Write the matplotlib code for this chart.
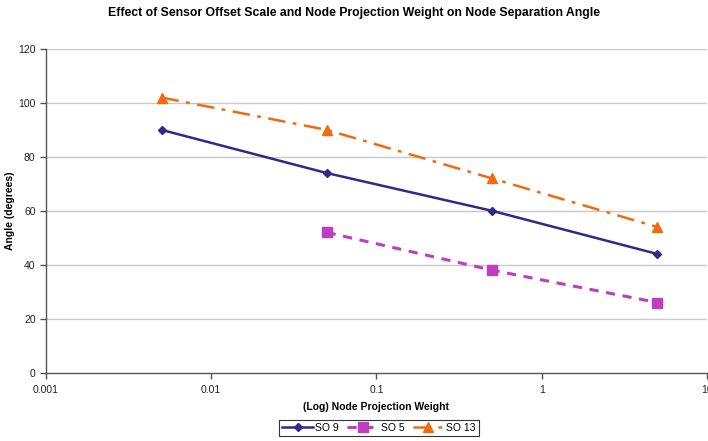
import matplotlib
matplotlib.use("Agg")
import matplotlib.pyplot as plt
from matplotlib.ticker import FixedLocator, FixedFormatter, NullLocator

plt.rcParams["font.family"] = ["Liberation Sans", "DejaVu Sans"]

# node projection weights and separation angles per sensor offset scale
weights_so9 = [0.005, 0.05, 0.5, 5]
angle_so9 = [90, 74, 60, 44]
weights_so5 = [0.05, 0.5, 5]
angle_so5 = [52, 38, 26]
weights_so13 = [0.005, 0.05, 0.5, 5]
angle_so13 = [102, 90, 72, 54]

x_ticks = [0.001, 0.01, 0.1, 1, 10]
x_tick_labels = ["0.001", "0.01", "0.1", "1", "10"]
y_ticks = [0, 20, 40, 60, 80, 100, 120]

fig = plt.figure(figsize=(7.08, 4.41), dpi=100)
ax = fig.add_axes([0.065, 0.155, 0.9335, 0.734])

ax.plot(weights_so9, angle_so9, color="#2E2A8C", lw=1.8, marker="D", ms=4.5,
        label="SO 9", zorder=3)
ax.plot(weights_so5, angle_so5, color="#C03CC0", lw=2.2, ls=(0, (3, 2.5)),
        marker="s", ms=7, label="SO 5", zorder=3)
ax.plot(weights_so13, angle_so13, color="#F26A10", lw=1.8,
        ls=(0, (7, 3, 1.5, 3)), marker="^", ms=6.5, label="SO 13", zorder=3)

ax.set_xscale("log")
ax.set_xlim(0.001, 10)
ax.set_ylim(0, 120)
ax.xaxis.set_major_locator(FixedLocator(x_ticks))
ax.xaxis.set_major_formatter(FixedFormatter(x_tick_labels))
ax.xaxis.set_minor_locator(NullLocator())
ax.set_yticks(y_ticks)

for y in y_ticks[1:]:
    ax.axhline(y, color="#C8C8C8", lw=1.0, zorder=1)

for side in ("top", "right"):
    ax.spines[side].set_visible(False)
for side in ("left", "bottom"):
    ax.spines[side].set_color("#555555")
    ax.spines[side].set_linewidth(1.0)
ax.spines["bottom"].set_zorder(4)

ax.tick_params(axis="both", colors="#555555", labelcolor="#222222",
               labelsize=7.5, length=4, width=1.0)
ax.tick_params(axis="x", pad=5)

ax.set_xlabel("(Log) Node Projection Weight", fontsize=7.5, fontweight="bold",
              labelpad=5)
ax.set_ylabel("Angle (degrees)", fontsize=7.5, fontweight="bold")
ax.yaxis.set_label_coords(-0.047, 0.5)

fig.suptitle("Effect of Sensor Offset Scale and Node Projection Weight on Node Separation Angle",
             fontsize=8.8, fontweight="bold", y=0.985)

leg = fig.legend(loc="center", bbox_to_anchor=(0.535, 0.03), ncol=3,
                 fontsize=7.5, frameon=True, fancybox=False, handlelength=3.0,
                 handletextpad=0.2, columnspacing=0.8, borderpad=0.3)
leg.get_frame().set_edgecolor("#000000")
leg.get_frame().set_linewidth(0.8)

fig.savefig("out.png", dpi=100)
